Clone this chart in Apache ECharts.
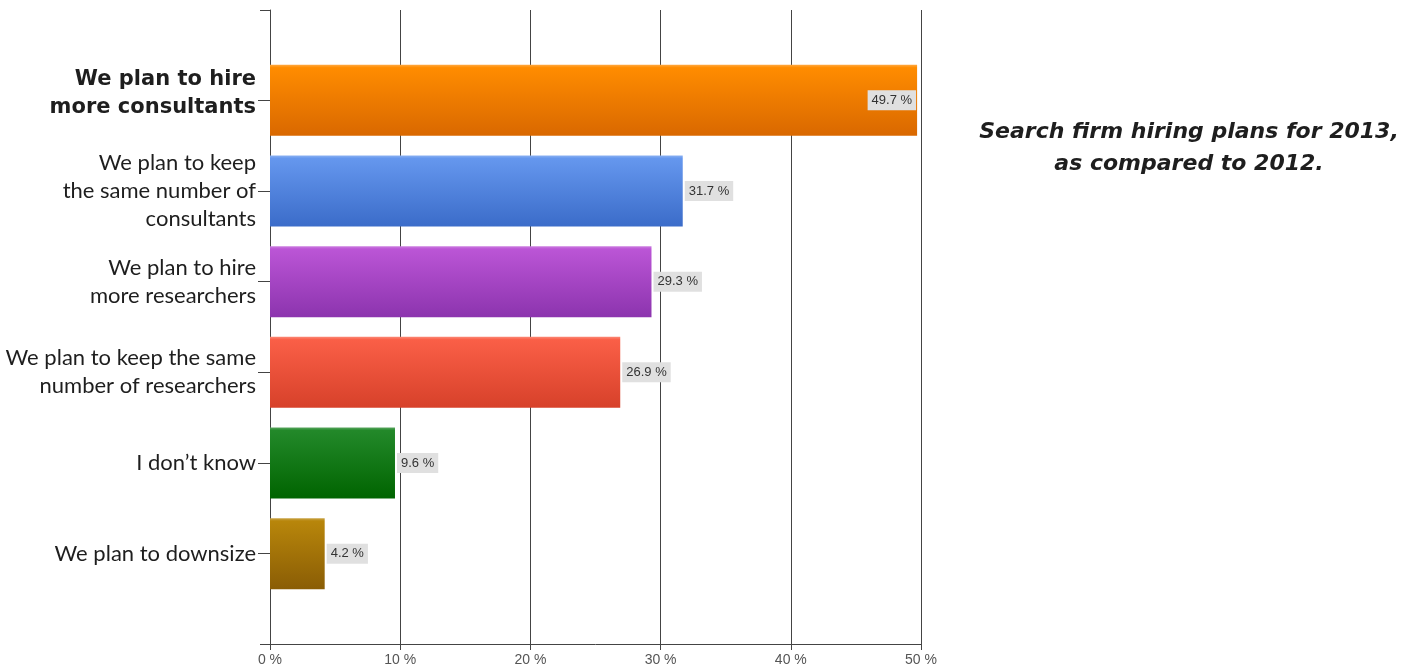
<!DOCTYPE html>
<html>
<head>
<meta charset="utf-8">
<script src="https://cdn.jsdelivr.net/npm/echarts@6/dist/echarts.min.js"></script>
<style>
  html, body { margin: 0; padding: 0; background: #fff; }
  #chart { width: 1421px; height: 670px; }
</style>
</head>
<body>
<div id="chart"></div>
<script>
// Hiring plans answers, top to bottom
const categories = [
  'We plan to hire\nmore consultants',
  'We plan to keep\nthe same number of\nconsultants',
  'We plan to hire\nmore researchers',
  'We plan to keep the same\nnumber of researchers',
  'I don\u2019t know',
  'We plan to downsize'
];
const values = [49.7, 31.7, 29.3, 26.9, 9.6, 4.2];
const xTicks = [0, 10, 20, 30, 40, 50];
const titleLines = ['Search firm hiring plans for 2013,', 'as compared to 2012.'];

// top / bottom colour of each bar's vertical gradient
const palette = [
  ['#ff8c00', '#d96800'],
  ['#6597ee', '#3b6cc9'],
  ['#bb55d6', '#8c34ae'],
  ['#fa5f47', '#d7412a'],
  ['#23892a', '#006400'],
  ['#b8860b', '#8a5d05']
];

const chart = echarts.init(document.getElementById('chart'));
const LEFT = 270, RIGHT = 500;
const axisColor = '#444';
const textFont = 'Lato, "Open Sans", sans-serif';
const heavyFont = '"DejaVu Sans", Lato, sans-serif';

function grad(c) {
  return {
    type: 'linear', x: 0, y: 0, x2: 0, y2: 1,
    colorStops: [
      { offset: 0, color: echarts.color.lift(c[0], 0.25) },
      { offset: 0.04, color: c[0] },
      { offset: 1, color: c[1] }
    ]
  };
}

const barData = values.map((v, i) => ({
  value: v,
  itemStyle: { color: grad(palette[i]) },
  label: v >= 45 ? { position: 'insideRight', distance: 1 } : { position: 'right', distance: 2 }
}));

// the highlighted answer sits a little above its tick
const categoryData = categories.map((c, i) => i === 0
  ? { value: c, textStyle: { padding: [0, 0, 14, 0] } }
  : c);

chart.setOption({
  animation: false,
  grid: [
    { left: LEFT, right: RIGHT, top: 10, bottom: 26 },
    { left: LEFT, right: RIGHT, top: 55, bottom: 71 }
  ],
  xAxis: [
    {
      gridIndex: 0, type: 'value', min: xTicks[0], max: xTicks[xTicks.length - 1], interval: 10,
      axisLine: { show: true, lineStyle: { color: axisColor, width: 1 } },
      axisTick: { show: true, length: 6, lineStyle: { color: axisColor } },
      splitLine: { show: true, lineStyle: { color: axisColor, width: 1 } },
      axisLabel: {
        formatter: '{value} %', fontSize: 14, color: '#555', margin: 9,
        fontFamily: '"Liberation Sans", Arial, sans-serif'
      }
    },
    {
      gridIndex: 1, type: 'value', min: xTicks[0], max: xTicks[xTicks.length - 1],
      show: false
    }
  ],
  yAxis: [
    {
      gridIndex: 0, type: 'value', min: 0, max: 1, interval: 1,
      axisLine: { show: true, lineStyle: { color: axisColor, width: 1 } },
      axisTick: { show: true, length: 10, lineStyle: { color: axisColor } },
      axisLabel: { show: false },
      splitLine: { show: false }
    },
    {
      gridIndex: 1, type: 'category', inverse: true, data: categoryData,
      axisLine: { show: false },
      axisTick: { show: true, alignWithLabel: true, length: 12, lineStyle: { color: axisColor } },
      axisLabel: {
        margin: 14,
        color: '#1e1e1e',
        fontSize: 22,
        lineHeight: 28,
        fontFamily: textFont,
        align: 'right',
        formatter: (val, idx) => idx === 0
          ? val.split('\n').map(l => '{b|' + l + '}').join('\n')
          : val,
        rich: {
          b: { fontWeight: 'bold', fontSize: 21, lineHeight: 28, color: '#1e1e1e',
               fontFamily: heavyFont }
        }
      }
    }
  ],
  series: [{
    type: 'bar',
    xAxisIndex: 1, yAxisIndex: 1,
    data: barData,
    barWidth: 71,
    label: {
      show: true,
      formatter: p => p.value + ' %',
      fontSize: 13,
      color: '#333',
      fontFamily: '"Liberation Sans", Arial, sans-serif',
      backgroundColor: '#e0e0e0',
      padding: [4, 4, 3, 4]
    }
  }],
  graphic: titleLines.map((t, i) => ({
    type: 'text',
    x: 1189, y: 132 + i * 32,
    style: {
      text: t,
      textAlign: 'center',
      textVerticalAlign: 'middle',
      font: 'italic bold 22px ' + heavyFont,
      fill: '#1e1e1e'
    }
  }))
});
</script>
</body>
</html>
